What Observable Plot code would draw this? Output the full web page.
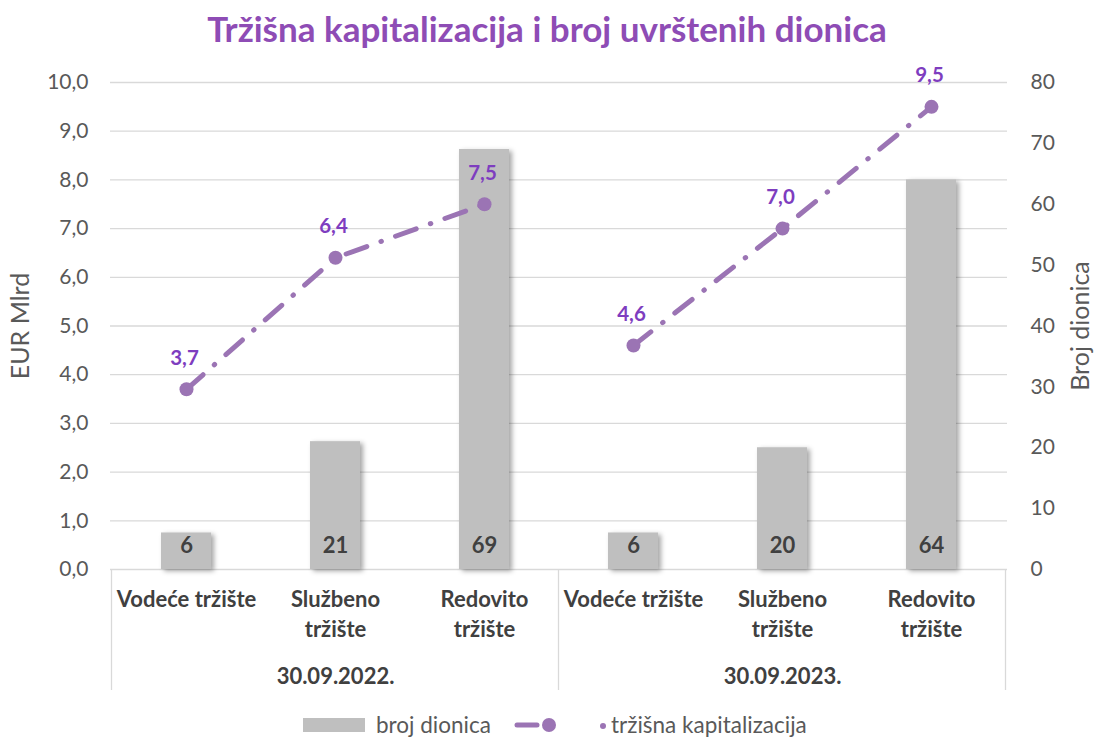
<!DOCTYPE html>
<html>
<head>
<meta charset="utf-8">
<script src="https://cdn.jsdelivr.net/npm/d3@7"></script>
<script src="https://cdn.jsdelivr.net/npm/@observablehq/plot@0.6"></script>
<style>
  body { margin: 0; background: #fff; font-family: Lato, "Open Sans", sans-serif; }
  #wrap { width: 1094px; height: 738px; position: relative; overflow: hidden; }
  #title { height: 60px; line-height: 56px; text-align: center; color: #8E4CB5; font-weight: bold; font-size: 35px; font-family: Lato, sans-serif; }
  #legend { position: absolute; top: 711px; left: 0; width: 1094px; height: 28px; }
  #legend .item { position: absolute; top: 0; font-size: 22.5px; color: #595959; font-family: Lato, sans-serif; white-space: nowrap; line-height: 28px; }
  svg { overflow: visible; }
</style>
</head>
<body>
<div id="wrap">
  <div id="title">Tržišna kapitalizacija i broj uvrštenih dionica</div>
  <div id="chart"></div>
  <div id="legend">
    <svg style="position:absolute;left:303px;top:7px" width="62" height="14"><rect width="62" height="14" fill="#BFBFBF"/></svg>
    <div class="item" style="left:376px">broj dionica</div>
    <svg style="position:absolute;left:510px;top:2px" width="100" height="24">
      <line x1="7" y1="12" x2="27" y2="12" stroke="#9B74B4" stroke-width="5" stroke-linecap="round"/>
      <circle cx="39" cy="12" r="7" fill="#9B74B4"/>
      <circle cx="93" cy="13" r="3" fill="#9B74B4"/>
    </svg>
    <div class="item" style="left:611px">tržišna kapitalizacija</div>
  </div>
</div>
<script>
// ---- data ----
const groups = ["30.09.2022.", "30.09.2023."];
const markets = ["Vodeće tržište", "Službeno\ntržište", "Redovito\ntržište"];
const brojDionica2022 = [6, 21, 69];
const brojDionica2023 = [6, 20, 64];
const kapitalizacija2022 = [3.7, 6.4, 7.5];
const kapitalizacija2023 = [4.6, 7.0, 9.5];
const leftTicks = [0,1,2,3,4,5,6,7,8,9,10];
const rightTicks = [0,10,20,30,40,50,60,70,80];

const fmt1 = d => d.toFixed(1).replace(".", ",");
const counts = [brojDionica2022, brojDionica2023];
const caps = [kapitalizacija2022, kapitalizacija2023];
const rows = [];
groups.forEach((g, gi) => markets.forEach((m, mi) => rows.push({
  key: g + "|" + m, group: g, market: m, count: counts[gi][mi], cap: caps[gi][mi], mi
})));
const RATIO = 80 / 10; // right axis max / left axis max

const purple = "#9B74B4";
const labelPurple = "#7E3DBF";

const chart = Plot.plot({
  width: 1094,
  height: 640,
  marginTop: 22,
  marginBottom: 131,
  marginLeft: 110,
  marginRight: 87,
  style: { fontFamily: "Lato, 'Open Sans', sans-serif", background: "transparent", overflow: "visible" },
  x: { type: "band", domain: rows.map(d => d.key), paddingInner: 0.665, paddingOuter: 0.3325, axis: null },
  y: { domain: [0, 10], axis: null },
  marks: [
    Plot.gridY(leftTicks, { stroke: "#D9D9D9", strokeOpacity: 1, strokeWidth: 1.3 }),
    Plot.barY(rows, { x: "key", y: d => d.count / RATIO, fill: "#BFBFBF" }),
    Plot.text(rows, { x: "key", y: 0, dy: -24, text: d => String(d.count), fill: "#404040", fontWeight: "bold", fontSize: 22 }),
    Plot.line(rows, { x: "key", y: "cap", z: "group", stroke: purple, strokeWidth: 5, strokeDasharray: "22,15,0.5,15", strokeLinecap: "round" }),
    Plot.dot(rows, { x: "key", y: "cap", r: 7, fill: purple }),
    Plot.text(rows, { x: "key", y: "cap", dy: -31, dx: -2, text: d => fmt1(d.cap), fill: labelPurple, fontWeight: "bold", fontSize: 20.5 }),
    Plot.axisY(leftTicks, { anchor: "left", label: null, tickSize: 0, tickPadding: 22, tickFormat: fmt1, fontSize: 21, fill: "#595959" }),
    Plot.axisY(rightTicks.map(t => t / RATIO), { anchor: "right", label: null, tickSize: 0, tickPadding: 23, tickFormat: d => String(Math.round(d * RATIO)), fontSize: 21, fill: "#595959", textAnchor: "start" }),
    Plot.text(["EUR Mlrd"], { frameAnchor: "left", textAnchor: "middle", dx: -90, rotate: -90, fontSize: 25, fill: "#595959" }),
    Plot.text(["Broj dionica"], { frameAnchor: "right", textAnchor: "middle", dx: 73, rotate: -90, fontSize: 25, fill: "#595959" }),
    Plot.text(rows, { x: "key", frameAnchor: "bottom", dy: 16, lineAnchor: "top", lineHeight: 1.36, text: "market", fill: "#404040", fontWeight: "bold", fontSize: 22 }),
    Plot.text(rows.filter(d => d.mi === 1), { x: "key", frameAnchor: "bottom", dy: 114, text: "group", fill: "#404040", fontWeight: "bold", fontSize: 22 })
  ]
});
document.getElementById("chart").appendChild(chart);

// drop shadow for bars + category axis box lines using the plot's x scale
const svg = d3.select(chart);
const defs = svg.insert("defs", ":first-child");
const f = defs.append("filter").attr("id", "shadow").attr("x", "-30%").attr("y", "-10%").attr("width", "160%").attr("height", "130%");
f.append("feDropShadow").attr("dx", 3).attr("dy", 2).attr("stdDeviation", 2.5).attr("flood-color", "#000").attr("flood-opacity", 0.35);
svg.selectAll('g[aria-label="bar"]').attr("filter", "url(#shadow)");

const xs = chart.scale("x");
const step = xs.step;
const y0 = 509, yb = 630;
const edges = [];
groups.forEach((g, gi) => {
  const first = xs.apply(g + "|" + markets[0]);
  edges.push(first - (step - xs.bandwidth) / 2);
});
const lastKey = groups[groups.length - 1] + "|" + markets[markets.length - 1];
edges.push(xs.apply(lastKey) + xs.bandwidth + (step - xs.bandwidth) / 2);
const lg = svg.append("g");
edges.forEach(x => lg.append("line").attr("x1", x).attr("x2", x).attr("y1", y0).attr("y2", yb).attr("stroke", "#D9D9D9").attr("stroke-width", 1.3));
</script>
</body>
</html>
